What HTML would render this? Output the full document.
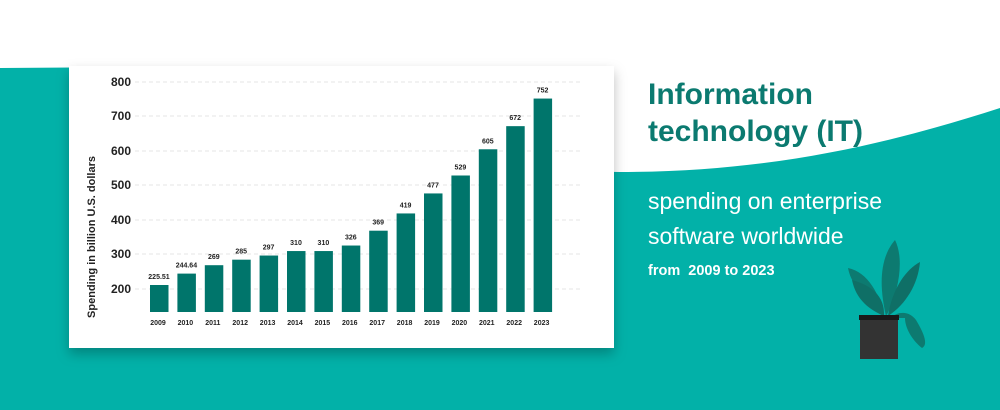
<!DOCTYPE html>
<html><head><meta charset="utf-8"><style>
html,body{margin:0;padding:0;background:#fff;}
body{width:1000px;height:410px;position:relative;overflow:hidden;font-family:"Liberation Sans",sans-serif;}
</style></head><body>
<svg width="1000" height="410" style="position:absolute;left:0;top:0">
<defs><filter id="sh" x="-10%" y="-10%" width="120%" height="130%"><feDropShadow dx="0" dy="6" stdDeviation="6" flood-color="#000" flood-opacity="0.25"/></filter></defs>
<path d="M0,68 L300,66 C450,120 520,172 620,172 C780,172 900,140 1000,108 L1000,410 L0,410 Z" fill="#02b1a8"/>
<rect x="69" y="66" width="545" height="282" fill="#fff" filter="url(#sh)"/>
<g font-family="Liberation Sans,sans-serif" font-weight="bold">
<g stroke="#e6e6e6" stroke-dasharray="4,3" stroke-width="1">
<line x1="135" x2="580" y1="82" y2="82"/><line x1="135" x2="580" y1="116" y2="116"/><line x1="135" x2="580" y1="151" y2="151"/><line x1="135" x2="580" y1="185" y2="185"/><line x1="135" x2="580" y1="220" y2="220"/><line x1="135" x2="580" y1="254" y2="254"/><line x1="135" x2="580" y1="289" y2="289"/>
</g>
<g font-size="12" fill="#222" text-anchor="end">
<text x="131" y="86">800</text><text x="131" y="120">700</text><text x="131" y="155">600</text><text x="131" y="189">500</text><text x="131" y="224">400</text><text x="131" y="258">300</text><text x="131" y="293">200</text>
</g>
<text transform="translate(95,237) rotate(-90)" font-size="11" fill="#222" text-anchor="middle">Spending in billion U.S. dollars</text>
<g fill="#00756b" id="bars"></g>
<g id="lbl" font-size="7" fill="#222" text-anchor="middle"></g>
</g>
<g>
<path d="M884,316 C872,300 852,290 848,268 C868,272 880,295 884,316Z" fill="#0d7a70"/>
<path d="M884,316 C885,295 870,285 852,280 C856,300 870,310 884,316Z" fill="#0f6f66"/>
<path d="M886,316 C880,290 878,260 895,240 C905,260 898,295 886,316Z" fill="#0d7a70"/>
<path d="M888,316 C892,290 905,270 920,262 C918,285 905,305 888,316Z" fill="#0f6f66"/>
<path d="M890,318 C900,310 910,312 916,320 C925,335 928,345 922,348 C912,340 905,328 905,318Z" fill="#0d7a70"/>
<rect x="860" y="315" width="38" height="44" fill="#333"/>
<rect x="859" y="315" width="40" height="5" fill="#1a1a1a"/>
</g>
</svg>
<div style="position:absolute;left:648px;top:76px;color:#0b7a70;font-weight:bold;font-size:30px;line-height:37px;letter-spacing:0px">Information<br>technology (IT)</div>
<div style="position:absolute;left:648px;top:184px;color:#fff;font-size:23px;line-height:35px">spending on enterprise<br>software worldwide</div>
<div style="position:absolute;left:648px;top:263px;color:#fff;font-weight:bold;font-size:14.5px">from&nbsp; 2009 to 2023</div>
<script>
var v=[225.51,244.64,269,285,297,310,310,326,369,419,477,529,605,672,752];
var lab=["225.51","244.64","269","285","297","310","310","326","369","419","477","529","605","672","752"];
var ns="http://www.w3.org/2000/svg",b=document.getElementById('bars'),l=document.getElementById('lbl');
var sc=0.345;
for(var i=0;i<15;i++){var x=150+i*27.4;var y=289-(v[i]-200)*sc;
if(i==0)y=285;
var r=document.createElementNS(ns,'rect');r.setAttribute('x',x);r.setAttribute('y',y);r.setAttribute('width',18.5);r.setAttribute('height',312-y);b.appendChild(r);
var t=document.createElementNS(ns,'text');t.setAttribute('x',x+9);t.setAttribute('y',y-6);t.textContent=lab[i];l.appendChild(t);
var t2=document.createElementNS(ns,'text');t2.setAttribute('x',x+8);t2.setAttribute('y',325);t2.textContent=2009+i;l.appendChild(t2);}
</script>
</body></html>
